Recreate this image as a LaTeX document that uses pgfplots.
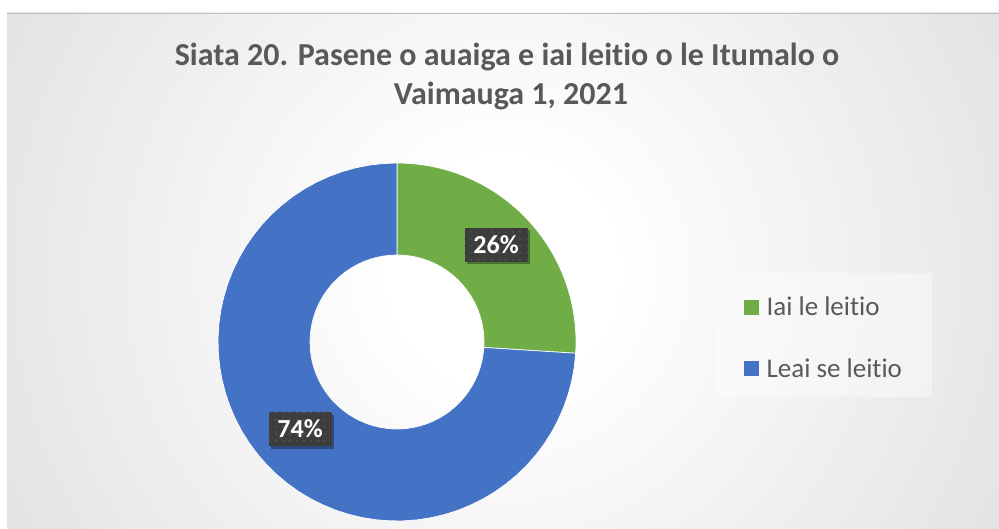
\documentclass[border=0pt]{standalone}
\usepackage{pgfplots}
\pgfplotsset{compat=1.18}
\usepackage{pgfplotstable}
\usepackage{fontspec}
\setmainfont{Carlito}[Ligatures={NoCommon,NoRare,NoContextual}]
\usetikzlibrary{shadows,patterns.meta}

\definecolor{cgreen}{HTML}{70AD47}
\definecolor{cblue}{HTML}{4472C4}
\definecolor{ctext}{HTML}{595959}
\definecolor{cgrey}{HTML}{C0C0C0}
\definecolor{clabel}{HTML}{3D3D3D}
\definecolor{cdot}{HTML}{575757}

\pgfdeclareradialshading{bgshade}{\pgfpoint{0bp}{0bp}}{color(0bp)=(white); color(5bp)=(white); color(50bp)=(cgrey); color(100bp)=(cgrey)}

\tikzdeclarepattern{
  name=bigdots, type=uncolored,
  bottom left={(0pt,0pt)}, top right={(6.5pt,6.5pt)},
  tile size={(6.5pt,6.5pt)},
  code={\fill (3.25pt,3.25pt) circle (1.1pt);}
}

\pgfplotstableread{
label value
{Iai le leitio} 26
{Leai se leitio} 74
}\datatable
\pgfplotstablegetelem{0}{value}\of\datatable \let\va\pgfplotsretval
\pgfplotstablegetelem{1}{value}\of\datatable \let\vb\pgfplotsretval
\pgfmathsetmacro\tot{\va+\vb}
\pgfmathsetmacro\aA{90}
\pgfmathsetmacro\aB{90-360*(\va/\tot)}
\pgfmathsetmacro\aC{\aB-360*(\vb/\tot)}
\pgfmathsetmacro\mA{(\aA+\aB)/2}
\pgfmathsetmacro\mB{(\aB+\aC)/2}
\pgfmathtruncatemacro\pA{round(100*(\va/\tot))}
\pgfmathtruncatemacro\pB{round(100*(\vb/\tot))}

% donut geometry (axis units = pt)
\def\cx{397}\def\cy{187}\def\Ro{179}\def\dR{92}

\newcommand\donutwedge[3]{%
  \addplot[fill=#1, draw=white, line width=0.7pt, domain=0:3, samples=181, variable=\t]
   ({\cx + (\Ro - \dR*min(max(\t-1,0),1))*cos(#2 + (#3-#2)*min(\t,1) - (#3-#2)*max(\t-2,0))},
    {\cy + (\Ro - \dR*min(max(\t-1,0),1))*sin(#2 + (#3-#2)*min(\t,1) - (#3-#2)*max(\t-2,0))}) -- cycle;
}

\tikzset{datalabel/.style={fill=clabel, postaction={pattern=bigdots, pattern color=cdot},
  drop shadow={shadow xshift=2.5pt, shadow yshift=-2.5pt, opacity=0.35, fill=black},
  text=white, font=\fontsize{26}{30}\selectfont\bfseries, minimum width=63pt, minimum height=34pt, inner sep=0pt}}

\begin{document}
\begin{tikzpicture}
\useasboundingbox (0,0) rectangle (999pt,529pt);
\fill[white] (0,0) rectangle (999pt,529pt);
\begin{scope}
\clip (7pt,0pt) rectangle (999pt,516pt);
\shade[shading=bgshade] (-57pt,-302pt) rectangle (1063pt,818pt);
\end{scope}
\draw[color=black!25, line width=0.8pt] (7pt,516pt) -- (999pt,516pt);
\fill[white, opacity=0.4] (717pt,132pt) rectangle (932pt,256pt);

\begin{axis}[at={(0,0)}, anchor=south west, scale only axis,
  width=999pt, height=529pt, xmin=0, xmax=999, ymin=0, ymax=529,
  hide axis, clip=false,
  legend image code/.code={\fill[#1, draw=none] (0pt,-7.5pt) rectangle (15pt,7.5pt); \path (22pt,0pt);},
  legend cell align=left,
  legend style={at={(axis cs:744,232)}, anchor=north west, draw=none, fill=none,
    inner sep=0pt, row sep=41pt, nodes={inner sep=0pt, text=ctext},
    font=\fontsize{27}{32}\selectfont},
]
\donutwedge{cgreen}{\aA}{\aB}
\addlegendentry{Iai le leitio}
\donutwedge{cblue}{\aB}{\aC}
\addlegendentry{Leai se leitio}

\node[datalabel] at (axis cs:{\cx+136*cos(\mA)},{\cy+136*sin(\mA)+4}) {\pA\%};
\node[datalabel] at (axis cs:{\cx+133*cos(\mB)},{\cy+133*sin(\mB)+4}) {\pB\%};
\end{axis}

\node[anchor=base, text=ctext, font=\fontsize{32}{38}\selectfont\bfseries] at (507pt,463pt) {Siata 20. Pasene o auaiga e iai leitio o le Itumalo o};
\node[anchor=base, text=ctext, font=\fontsize{32}{38}\selectfont\bfseries] at (511pt,424pt) {Vaimauga 1, 2021};
\end{tikzpicture}
\end{document}
